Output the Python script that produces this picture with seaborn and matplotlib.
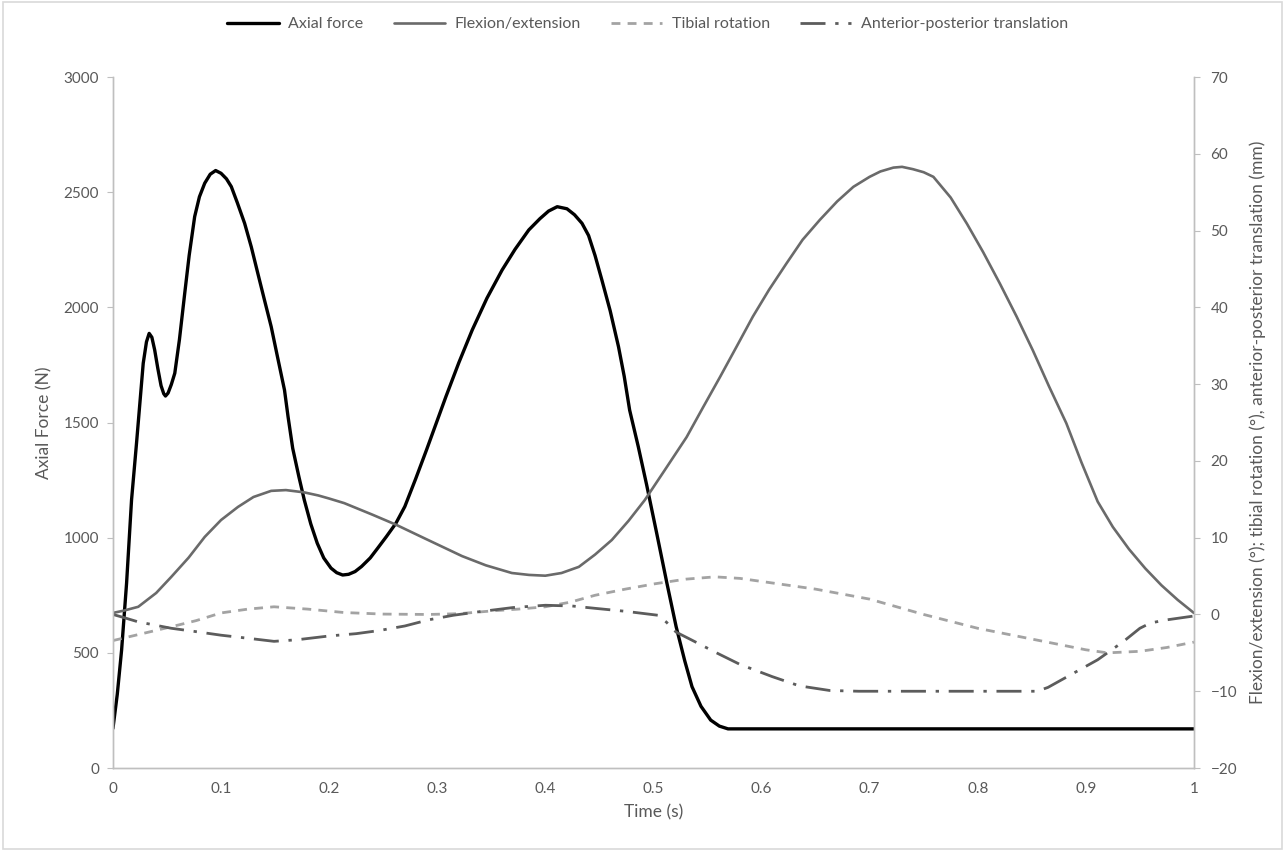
"""
Knee simulator input profiles: axial force (left axis) and
flexion / tibial rotation / AP translation (right axis) over one cycle.
"""

import matplotlib
matplotlib.use("Agg")
import matplotlib.pyplot as plt
import seaborn as sns
from matplotlib.patches import Rectangle

# ── Data ─────────────────────────────────────────────────────────────────────
force_t = [0.000, 0.004, 0.008, 0.0126, 0.0172, 0.0218, 0.028, 0.031, 0.0335,
           0.036, 0.0386, 0.0415, 0.0445, 0.047, 0.0486, 0.051, 0.054, 0.0572,
           0.0615, 0.0664, 0.0705, 0.0756, 0.080, 0.0849, 0.090, 0.095, 0.100,
           0.105, 0.1095, 0.115, 0.1218, 0.128, 0.134, 0.140, 0.1464, 0.152,
           0.1587, 0.162, 0.1663, 0.172, 0.177, 0.183, 0.189, 0.195, 0.2017,
           0.207, 0.2125, 0.218, 0.224, 0.230, 0.238, 0.245, 0.253, 0.2617,
           0.270, 0.280, 0.290, 0.308, 0.320, 0.3324, 0.346, 0.360, 0.372,
           0.3847, 0.395, 0.403, 0.411, 0.420, 0.427, 0.4339, 0.440, 0.446,
           0.4523, 0.460, 0.4677, 0.473, 0.478, 0.486, 0.4937, 0.503, 0.5125,
           0.521, 0.529, 0.5357, 0.544, 0.553, 0.561, 0.569, 1.000]
force_n = [172, 320, 512, 802, 1164, 1410, 1757, 1850, 1887,
           1870, 1815, 1735, 1660, 1625, 1615, 1628, 1665, 1714,
           1860, 2061, 2225, 2394, 2480, 2539, 2578, 2594, 2582,
           2558, 2524, 2455, 2365, 2262, 2148, 2035, 1916, 1790,
           1641, 1525, 1388, 1265, 1164, 1060, 976, 912, 868,
           848, 838, 841, 853, 875, 912, 955, 1005, 1062,
           1135, 1255, 1380, 1612, 1760, 1902, 2040, 2162, 2252,
           2336, 2385, 2418, 2437, 2428, 2402, 2365, 2312, 2225,
           2119, 1985, 1829, 1700, 1554, 1395, 1230, 1020, 802,
           614, 465, 353, 268, 208, 182, 170, 170]

flex_t = [0.000, 0.010, 0.0234, 0.040, 0.054, 0.070, 0.0849, 0.100, 0.1156,
          0.130, 0.1464, 0.160, 0.177, 0.190, 0.200, 0.214, 0.240, 0.2617,
          0.290, 0.323, 0.345, 0.369, 0.385, 0.400, 0.415, 0.431, 0.446,
          0.4615, 0.477, 0.492, 0.510, 0.5307, 0.546, 0.5615, 0.577, 0.592,
          0.607, 0.623, 0.638, 0.654, 0.670, 0.685, 0.700, 0.710, 0.722,
          0.730, 0.740, 0.750, 0.759, 0.775, 0.790, 0.805, 0.8205, 0.836,
          0.851, 0.866, 0.882, 0.896, 0.911, 0.925, 0.940, 0.955, 0.970,
          0.985, 1.000]
flex_deg = [0.2, 0.5, 1.0, 2.8, 4.9, 7.4, 10.1, 12.3, 14.0,
            15.3, 16.1, 16.2, 15.9, 15.5, 15.1, 14.5, 13.0, 11.7,
            9.8, 7.6, 6.4, 5.4, 5.15, 5.05, 5.4, 6.2, 7.8,
            9.7, 12.2, 14.9, 18.7, 23.1, 27.0, 30.9, 34.9, 38.8,
            42.3, 45.7, 48.8, 51.4, 53.8, 55.7, 57.0, 57.7, 58.2,
            58.3, 58.0, 57.6, 57.0, 54.3, 50.9, 47.2, 43.1, 38.8,
            34.4, 29.7, 24.9, 19.8, 14.7, 11.4, 8.5, 6.0, 3.8,
            1.9, 0.2]

tib_t = [0.000, 0.027, 0.054, 0.077, 0.100, 0.125, 0.149, 0.180, 0.214,
         0.250, 0.292, 0.320, 0.354, 0.375, 0.400, 0.423, 0.446, 0.474,
         0.5015, 0.530, 0.557, 0.580, 0.600, 0.650, 0.700, 0.750, 0.800,
         0.850, 0.900, 0.920, 0.950, 0.975, 1.000]
tib_deg = [-3.4, -2.5, -1.6, -0.8, 0.2, 0.7, 1.0, 0.7, 0.25,
           0.05, 0.0, 0.1, 0.5, 0.7, 1.0, 1.6, 2.5, 3.3,
           4.0, 4.6, 4.9, 4.7, 4.3, 3.3, 2.0, 0.0, -1.8,
           -3.2, -4.6, -5.0, -4.8, -4.3, -3.6]

ap_t = [0.000, 0.010, 0.023, 0.054, 0.075, 0.100, 0.125, 0.149, 0.170,
        0.200, 0.225, 0.246, 0.270, 0.292, 0.315, 0.3385, 0.370, 0.400,
        0.425, 0.446, 0.475, 0.504, 0.512, 0.521, 0.535, 0.557, 0.580,
        0.610, 0.635, 0.663, 0.690, 0.750, 0.855, 0.865, 0.911, 0.935,
        0.950, 0.960, 0.975, 1.000]
ap_mm = [0.0, -0.4, -0.95, -1.8, -2.2, -2.7, -3.1, -3.5, -3.3,
         -2.8, -2.5, -2.1, -1.5, -0.7, -0.1, 0.35, 0.9, 1.2,
         1.1, 0.8, 0.4, -0.1, -1.0, -2.3, -3.3, -4.9, -6.5,
         -8.1, -9.3, -9.9, -10.0, -10.0, -10.0, -9.5, -5.9, -3.5,
         -1.8, -1.1, -0.7, -0.2]

x_ticks = [0, 0.1, 0.2, 0.3, 0.4, 0.5, 0.6, 0.7, 0.8, 0.9, 1]
x_tick_labels = ["0", "0.1", "0.2", "0.3", "0.4", "0.5", "0.6", "0.7", "0.8", "0.9", "1"]

# ── Style ────────────────────────────────────────────────────────────────────
sns.set_theme(style="white")
plt.rcParams["font.family"] = ["Lato", "DejaVu Sans"]
TEXT = "#595959"
SPINE = "#bfbfbf"

fig = plt.figure(figsize=(12.85, 8.51), dpi=100)
ax = fig.add_axes([0.0879, 0.0975, 0.8412, 0.812])
ax2 = ax.twinx()

# ── Lines ────────────────────────────────────────────────────────────────────
sns.lineplot(x=force_t, y=force_n, ax=ax, color="black", linewidth=2.4,
             label="Axial force")
sns.lineplot(x=flex_t, y=flex_deg, ax=ax2, color="#6a6a6a", linewidth=1.9,
             label="Flexion/extension")
sns.lineplot(x=tib_t, y=tib_deg, ax=ax2, color="#a3a3a3", linewidth=2.0,
             label="Tibial rotation")
sns.lineplot(x=ap_t, y=ap_mm, ax=ax2, color="#5c5c5c", linewidth=2.0,
             label="Anterior-posterior translation")
ax2.lines[1].set_dashes((3.2, 2.6))
ax2.lines[2].set_dashes((9, 3.5, 1.2, 3.5))

for a in (ax, ax2):
    if a.get_legend() is not None:
        a.get_legend().remove()

# ── Axes ─────────────────────────────────────────────────────────────────────
ax.set_xlim(0, 1)
ax.set_ylim(0, 3000)
ax2.set_ylim(-20, 70)
ax.set_xticks(x_ticks)
ax.set_xticklabels(x_tick_labels)
ax.set_yticks(range(0, 3001, 500))
ax2.set_yticks(range(-20, 71, 10))

for a in (ax, ax2):
    a.spines["top"].set_visible(False)
    for side in ("left", "right", "bottom"):
        a.spines[side].set_color(SPINE)
        a.spines[side].set_linewidth(1.0)
    a.tick_params(colors=TEXT, labelsize=11, length=4, width=0.8,
                  color=SPINE, direction="out")
ax.tick_params(axis="x", pad=6)
ax.tick_params(axis="y", pad=6)
ax2.tick_params(axis="y", pad=8)

ax.set_xlabel("Time (s)", color=TEXT, fontsize=12.5, labelpad=6)
ax.set_ylabel("Axial Force (N)", color=TEXT, fontsize=12.5, labelpad=8)
ax2.set_ylabel("Flexion/extension (°); tibial rotation (°), "
               "anterior-posterior translation (mm)",
               color=TEXT, fontsize=12.5, labelpad=9)

# ── Legend ───────────────────────────────────────────────────────────────────
handles = ax.get_lines()[:1] + ax2.get_lines()[:3]
labels = [h.get_label() for h in handles]
fig.legend(handles, labels, loc="upper center", bbox_to_anchor=(0.504, 0.997),
           ncol=4, frameon=False, fontsize=11.5, handlelength=3.2,
           handletextpad=0.6, columnspacing=1.9, labelcolor=TEXT)

# chart-area border
fig.patches.append(Rectangle((0.002, 0.002), 0.996, 0.996, transform=fig.transFigure,
                             fill=False, edgecolor="#d9d9d9", linewidth=1.2))

fig.savefig("out.png", dpi=100)
